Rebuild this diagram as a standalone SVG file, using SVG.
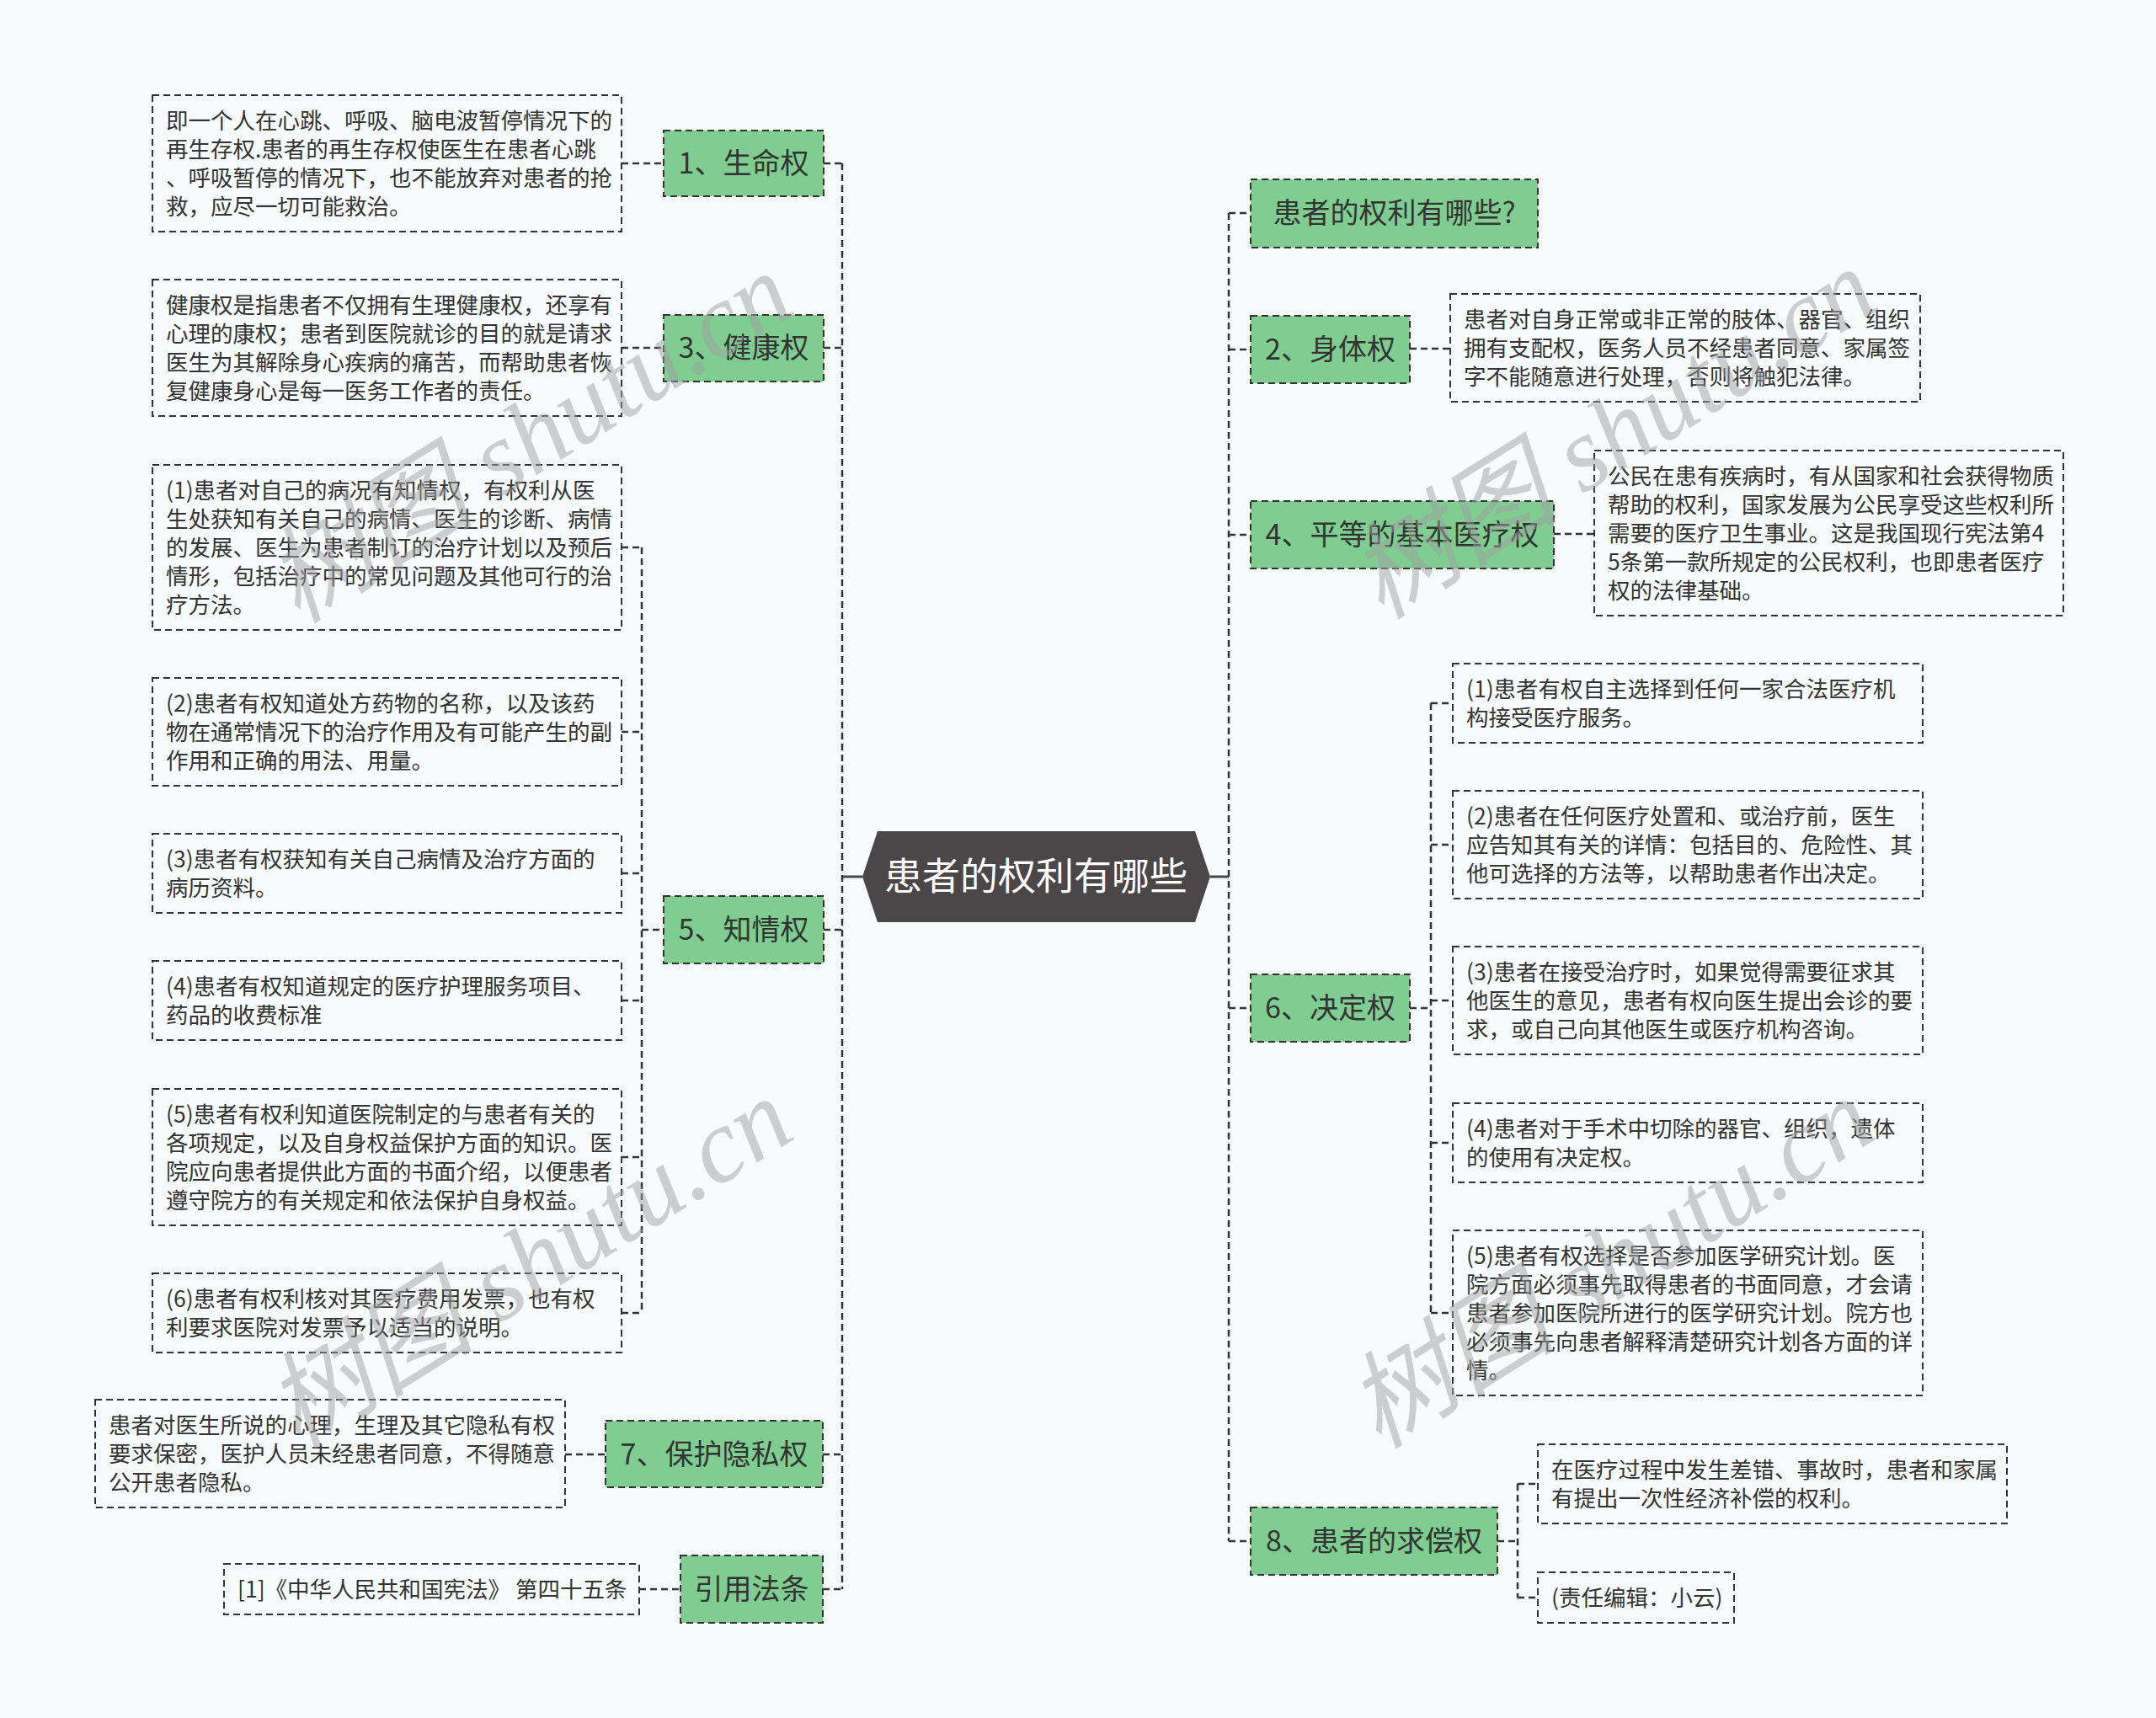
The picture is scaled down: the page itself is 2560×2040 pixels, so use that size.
<svg xmlns="http://www.w3.org/2000/svg" width="2560" height="2040" viewBox="0 0 2560 2040">
<style>
.box{fill:none;stroke:#333;stroke-width:2;stroke-dasharray:8 5}
.green{fill:#7fcd91;stroke:#333;stroke-width:2;stroke-dasharray:8 5}
.conn{fill:none;stroke:#333;stroke-width:2.5;stroke-dasharray:8 5}
.solid{fill:none;stroke:#4b4647;stroke-width:3}
.t{font-family:"Noto Sans CJK SC",sans-serif;font-size:26.5px;fill:#333}
.g{font-family:"Noto Sans CJK SC",sans-serif;font-size:34px;fill:#333;text-anchor:middle}
.c{font-family:"Noto Sans CJK SC",sans-serif;font-size:45px;fill:#fff;text-anchor:middle}
.wm{font-family:"Liberation Serif","Noto Sans CJK SC",serif;font-style:italic;font-size:125px;fill:#a0a0a0;fill-opacity:0.5;text-anchor:end}
</style>
<rect x="0" y="0" width="2560" height="2040" fill="#f7fbfc"/>
<g id="connectors">
<path class="solid" d="M1000 1041 H1024 M1437 1041 H1459"/>
<path class="conn" d="M1000 194 V1887 M978 194 H1000 M978 413 H1000 M978 1104 H1000 M977 1727 H1000 M977 1887 H1000"/>
<path class="conn" d="M738 194 H788 M738 413 H788 M671 1727 H719 M759 1887 H808"/>
<path class="conn" d="M762 650 V1559 M738 650 H762 M738 869 H762 M738 1037 H762 M738 1188 H762 M738 1374 H762 M738 1559 H762 M762 1104 H788"/>
<path class="conn" d="M1459 253 V1830 M1459 253 H1485 M1459 415 H1485 M1459 635 H1485 M1459 1197 H1485 M1459 1830 H1485"/>
<path class="conn" d="M1674 414 H1722 M1845 634 H1893"/>
<path class="conn" d="M1699 835 V1559 M1674 1197 H1699 M1699 835 H1725 M1699 1003 H1725 M1699 1188 H1725 M1699 1357 H1725 M1699 1559 H1725"/>
<path class="conn" d="M1802 1762 V1897 M1778 1830 H1802 M1802 1762 H1826 M1802 1897 H1826"/>
</g>
<g id="center">
<polygon points="1024,1041 1042,987 1419,987 1437,1041 1419,1095 1042,1095" fill="#4b4647"/>
<text class="c" x="1230" y="1057">患者的权利有哪些</text>
</g>
<g id="n1"><rect class="green" x="788" y="155" width="190" height="78"/><text class="g" x="883" y="206">1、生命权</text></g>
<g id="n1t"><rect class="box" x="181" y="113" width="557" height="162"/><text class="t" x="197" y="153">即一个人在心跳、呼吸、脑电波暂停情况下的</text><text class="t" x="197" y="187">再生存权.患者的再生存权使医生在患者心跳</text><text class="t" x="197" y="221">、呼吸暂停的情况下，也不能放弃对患者的抢</text><text class="t" x="197" y="255">救，应尽一切可能救治。</text></g>
<g id="n3"><rect class="green" x="788" y="374" width="190" height="79"/><text class="g" x="883" y="425">3、健康权</text></g>
<g id="n3t"><rect class="box" x="181" y="332" width="557" height="162"/><text class="t" x="197" y="372">健康权是指患者不仅拥有生理健康权，还享有</text><text class="t" x="197" y="406">心理的康权；患者到医院就诊的目的就是请求</text><text class="t" x="197" y="440">医生为其解除身心疾病的痛苦，而帮助患者恢</text><text class="t" x="197" y="474">复健康身心是每一医务工作者的责任。</text></g>
<g id="n5"><rect class="green" x="788" y="1064" width="190" height="80"/><text class="g" x="883" y="1116">5、知情权</text></g>
<g id="n5a"><rect class="box" x="181" y="552" width="557" height="196"/><text class="t" x="197" y="592">(1)患者对自己的病况有知情权，有权利从医</text><text class="t" x="197" y="626">生处获知有关自己的病情、医生的诊断、病情</text><text class="t" x="197" y="660">的发展、医生为患者制订的治疗计划以及预后</text><text class="t" x="197" y="694">情形，包括治疗中的常见问题及其他可行的治</text><text class="t" x="197" y="728">疗方法。</text></g>
<g id="n5b"><rect class="box" x="181" y="805" width="557" height="128"/><text class="t" x="197" y="845">(2)患者有权知道处方药物的名称，以及该药</text><text class="t" x="197" y="879">物在通常情况下的治疗作用及有可能产生的副</text><text class="t" x="197" y="913">作用和正确的用法、用量。</text></g>
<g id="n5c"><rect class="box" x="181" y="990" width="557" height="94"/><text class="t" x="197" y="1030">(3)患者有权获知有关自己病情及治疗方面的</text><text class="t" x="197" y="1064">病历资料。</text></g>
<g id="n5d"><rect class="box" x="181" y="1141" width="557" height="94"/><text class="t" x="197" y="1181">(4)患者有权知道规定的医疗护理服务项目、</text><text class="t" x="197" y="1215">药品的收费标准</text></g>
<g id="n5e"><rect class="box" x="181" y="1293" width="557" height="162"/><text class="t" x="197" y="1333">(5)患者有权利知道医院制定的与患者有关的</text><text class="t" x="197" y="1367">各项规定，以及自身权益保护方面的知识。医</text><text class="t" x="197" y="1401">院应向患者提供此方面的书面介绍，以便患者</text><text class="t" x="197" y="1435">遵守院方的有关规定和依法保护自身权益。</text></g>
<g id="n5f"><rect class="box" x="181" y="1512" width="557" height="94"/><text class="t" x="197" y="1552">(6)患者有权利核对其医疗费用发票，也有权</text><text class="t" x="197" y="1586">利要求医院对发票予以适当的说明。</text></g>
<g id="n7"><rect class="green" x="719" y="1687" width="258" height="79"/><text class="g" x="848" y="1739">7、保护隐私权</text></g>
<g id="n7t"><rect class="box" x="113" y="1662" width="558" height="128"/><text class="t" x="129" y="1702">患者对医生所说的心理，生理及其它隐私有权</text><text class="t" x="129" y="1736">要求保密，医护人员未经患者同意，不得随意</text><text class="t" x="129" y="1770">公开患者隐私。</text></g>
<g id="nref"><rect class="green" x="808" y="1847" width="169" height="80"/><text class="g" x="892.5" y="1899">引用法条</text></g>
<g id="nreft"><rect class="box" x="266" y="1857" width="493" height="60"/><text class="t" x="282" y="1897">[1]《中华人民共和国宪法》 第四十五条</text></g>
<g id="nq"><rect class="green" x="1485" y="213" width="341" height="81"/><text class="g" x="1655.5" y="265">患者的权利有哪些?</text></g>
<g id="n2"><rect class="green" x="1485" y="375" width="189" height="80"/><text class="g" x="1579.5" y="427">2、身体权</text></g>
<g id="n2t"><rect class="box" x="1722" y="349" width="558" height="128"/><text class="t" x="1738" y="389">患者对自身正常或非正常的肢体、器官、组织</text><text class="t" x="1738" y="423">拥有支配权，医务人员不经患者同意、家属签</text><text class="t" x="1738" y="457">字不能随意进行处理，否则将触犯法律。</text></g>
<g id="n4"><rect class="green" x="1485" y="595" width="360" height="80"/><text class="g" x="1665" y="647">4、平等的基本医疗权</text></g>
<g id="n4t"><rect class="box" x="1893" y="535" width="557" height="196"/><text class="t" x="1909" y="575">公民在患有疾病时，有从国家和社会获得物质</text><text class="t" x="1909" y="609">帮助的权利，国家发展为公民享受这些权利所</text><text class="t" x="1909" y="643">需要的医疗卫生事业。这是我国现行宪法第4</text><text class="t" x="1909" y="677">5条第一款所规定的公民权利，也即患者医疗</text><text class="t" x="1909" y="711">权的法律基础。</text></g>
<g id="n6"><rect class="green" x="1485" y="1157" width="189" height="80"/><text class="g" x="1579.5" y="1209">6、决定权</text></g>
<g id="n6a"><rect class="box" x="1725" y="788" width="558" height="94"/><text class="t" x="1741" y="828">(1)患者有权自主选择到任何一家合法医疗机</text><text class="t" x="1741" y="862">构接受医疗服务。</text></g>
<g id="n6b"><rect class="box" x="1725" y="939" width="558" height="128"/><text class="t" x="1741" y="979">(2)患者在任何医疗处置和、或治疗前，医生</text><text class="t" x="1741" y="1013">应告知其有关的详情：包括目的、危险性、其</text><text class="t" x="1741" y="1047">他可选择的方法等，以帮助患者作出决定。</text></g>
<g id="n6c"><rect class="box" x="1725" y="1124" width="558" height="128"/><text class="t" x="1741" y="1164">(3)患者在接受治疗时，如果觉得需要征求其</text><text class="t" x="1741" y="1198">他医生的意见，患者有权向医生提出会诊的要</text><text class="t" x="1741" y="1232">求，或自己向其他医生或医疗机构咨询。</text></g>
<g id="n6d"><rect class="box" x="1725" y="1310" width="558" height="94"/><text class="t" x="1741" y="1350">(4)患者对于手术中切除的器官、组织，遗体</text><text class="t" x="1741" y="1384">的使用有决定权。</text></g>
<g id="n6e"><rect class="box" x="1725" y="1461" width="558" height="196"/><text class="t" x="1741" y="1501">(5)患者有权选择是否参加医学研究计划。医</text><text class="t" x="1741" y="1535">院方面必须事先取得患者的书面同意，才会请</text><text class="t" x="1741" y="1569">患者参加医院所进行的医学研究计划。院方也</text><text class="t" x="1741" y="1603">必须事先向患者解释清楚研究计划各方面的详</text><text class="t" x="1741" y="1637">情。</text></g>
<g id="n8"><rect class="green" x="1485" y="1790" width="293" height="80"/><text class="g" x="1631.5" y="1842">8、患者的求偿权</text></g>
<g id="n8a"><rect class="box" x="1826" y="1715" width="557" height="94"/><text class="t" x="1842" y="1755">在医疗过程中发生差错、事故时，患者和家属</text><text class="t" x="1842" y="1789">有提出一次性经济补偿的权利。</text></g>
<g id="n8b"><rect class="box" x="1826" y="1867" width="233" height="60"/><text class="t" x="1842" y="1907">(责任编辑：小云)</text></g>
<g id="watermark">
<text class="wm" x="948" y="370" transform="rotate(-32 948 370)">树图 shutu.cn</text>
<text class="wm" x="2235" y="365" transform="rotate(-32 2235 365)">树图 shutu.cn</text>
<text class="wm" x="948" y="1350" transform="rotate(-32 948 1350)">树图 shutu.cn</text>
<text class="wm" x="2232" y="1350" transform="rotate(-32 2232 1350)">树图 shutu.cn</text>
</g>
</svg>
